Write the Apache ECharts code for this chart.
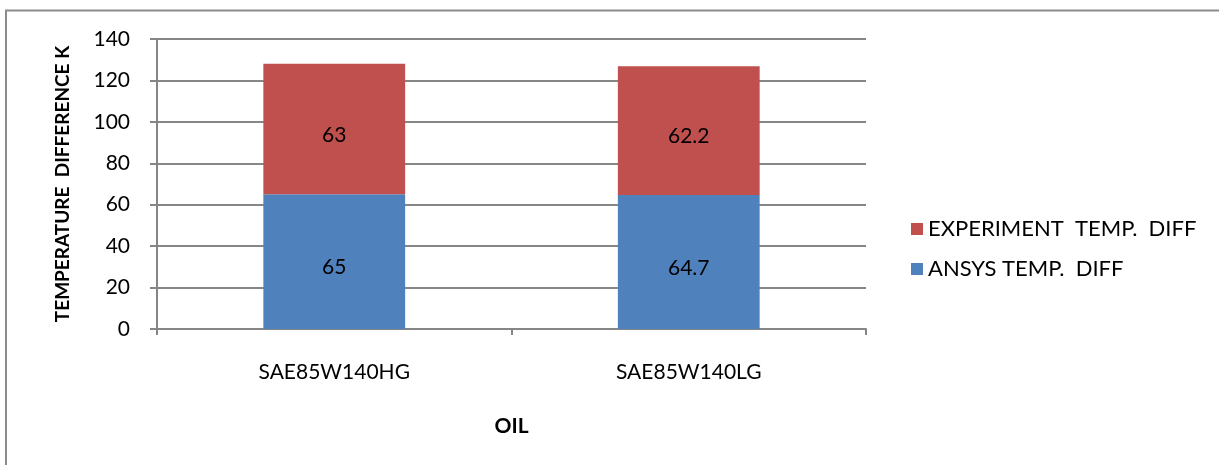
<!DOCTYPE html>
<html><head><meta charset="utf-8">
<script src="https://cdn.jsdelivr.net/npm/echarts@6/dist/echarts.min.js"></script>
<style>html,body{margin:0;padding:0;background:#fff}#c{width:1219px;height:465px}</style>
</head><body><div id="c"></div>
<script>
var categories = ['SAE85W140HG', 'SAE85W140LG'];
var ansys = [65, 64.7];
var experiment = [63, 62.2];
var seriesNames = ['ANSYS TEMP.  DIFF', 'EXPERIMENT  TEMP.  DIFF'];
var yTicks = {min: 0, max: 140, interval: 20};

var font = 'Lato, "Open Sans", sans-serif';
var grey = '#868686';
var chart = echarts.init(document.getElementById('c'));
chart.setOption({
  animation: false,
  textStyle: {fontFamily: font},
  graphic: [{type: 'rect', shape: {x: 6, y: 10.5, width: 1400, height: 600}, style: {fill: 'none', stroke: '#8c8c8c', lineWidth: 2}}],
  grid: {left: 157, top: 39, width: 709, height: 290, containLabel: false},
  legend: {
    orient: 'vertical', left: 906, top: 213, itemGap: 18, itemWidth: 12, itemHeight: 12,
    icon: 'rect', data: [seriesNames[1], seriesNames[0]],
    textStyle: {fontFamily: font, fontSize: 22, color: '#000'}
  },
  xAxis: {
    type: 'category', data: categories,
    name: 'OIL', nameLocation: 'middle', nameGap: 87,
    nameTextStyle: {fontFamily: font, fontSize: 21, fontWeight: 'bold', color: '#000'},
    axisLine: {lineStyle: {color: grey, width: 2}},
    axisTick: {show: true, length: 6, lineStyle: {color: grey, width: 2}},
    axisLabel: {margin: 33, fontSize: 21, color: '#000', fontFamily: font}
  },
  yAxis: {
    type: 'value', min: yTicks.min, max: yTicks.max, interval: yTicks.interval,
    name: 'TEMPERATURE  DIFFERENCE K', nameLocation: 'middle', nameGap: 85,
    nameTextStyle: {fontFamily: font, fontSize: 19, fontWeight: 'bold', color: '#000'},
    axisLine: {show: true, lineStyle: {color: grey, width: 2}},
    axisTick: {show: true, length: 7, lineStyle: {color: grey, width: 2}},
    splitLine: {lineStyle: {color: grey, width: 2}},
    axisLabel: {margin: 27, fontSize: 21, color: '#000', fontFamily: font}
  },
  series: [
    {name: seriesNames[0], type: 'bar', stack: 't', data: ansys, barCategoryGap: '60%',
     itemStyle: {color: '#4F81BD'},
     label: {show: true, position: 'inside', offset: [0, 6], color: '#000', fontSize: 21, fontFamily: font}},
    {name: seriesNames[1], type: 'bar', stack: 't', data: experiment,
     itemStyle: {color: '#C0504D'},
     label: {show: true, position: 'inside', offset: [0, 6], color: '#000', fontSize: 21, fontFamily: font}}
  ]
});
</script></body></html>
